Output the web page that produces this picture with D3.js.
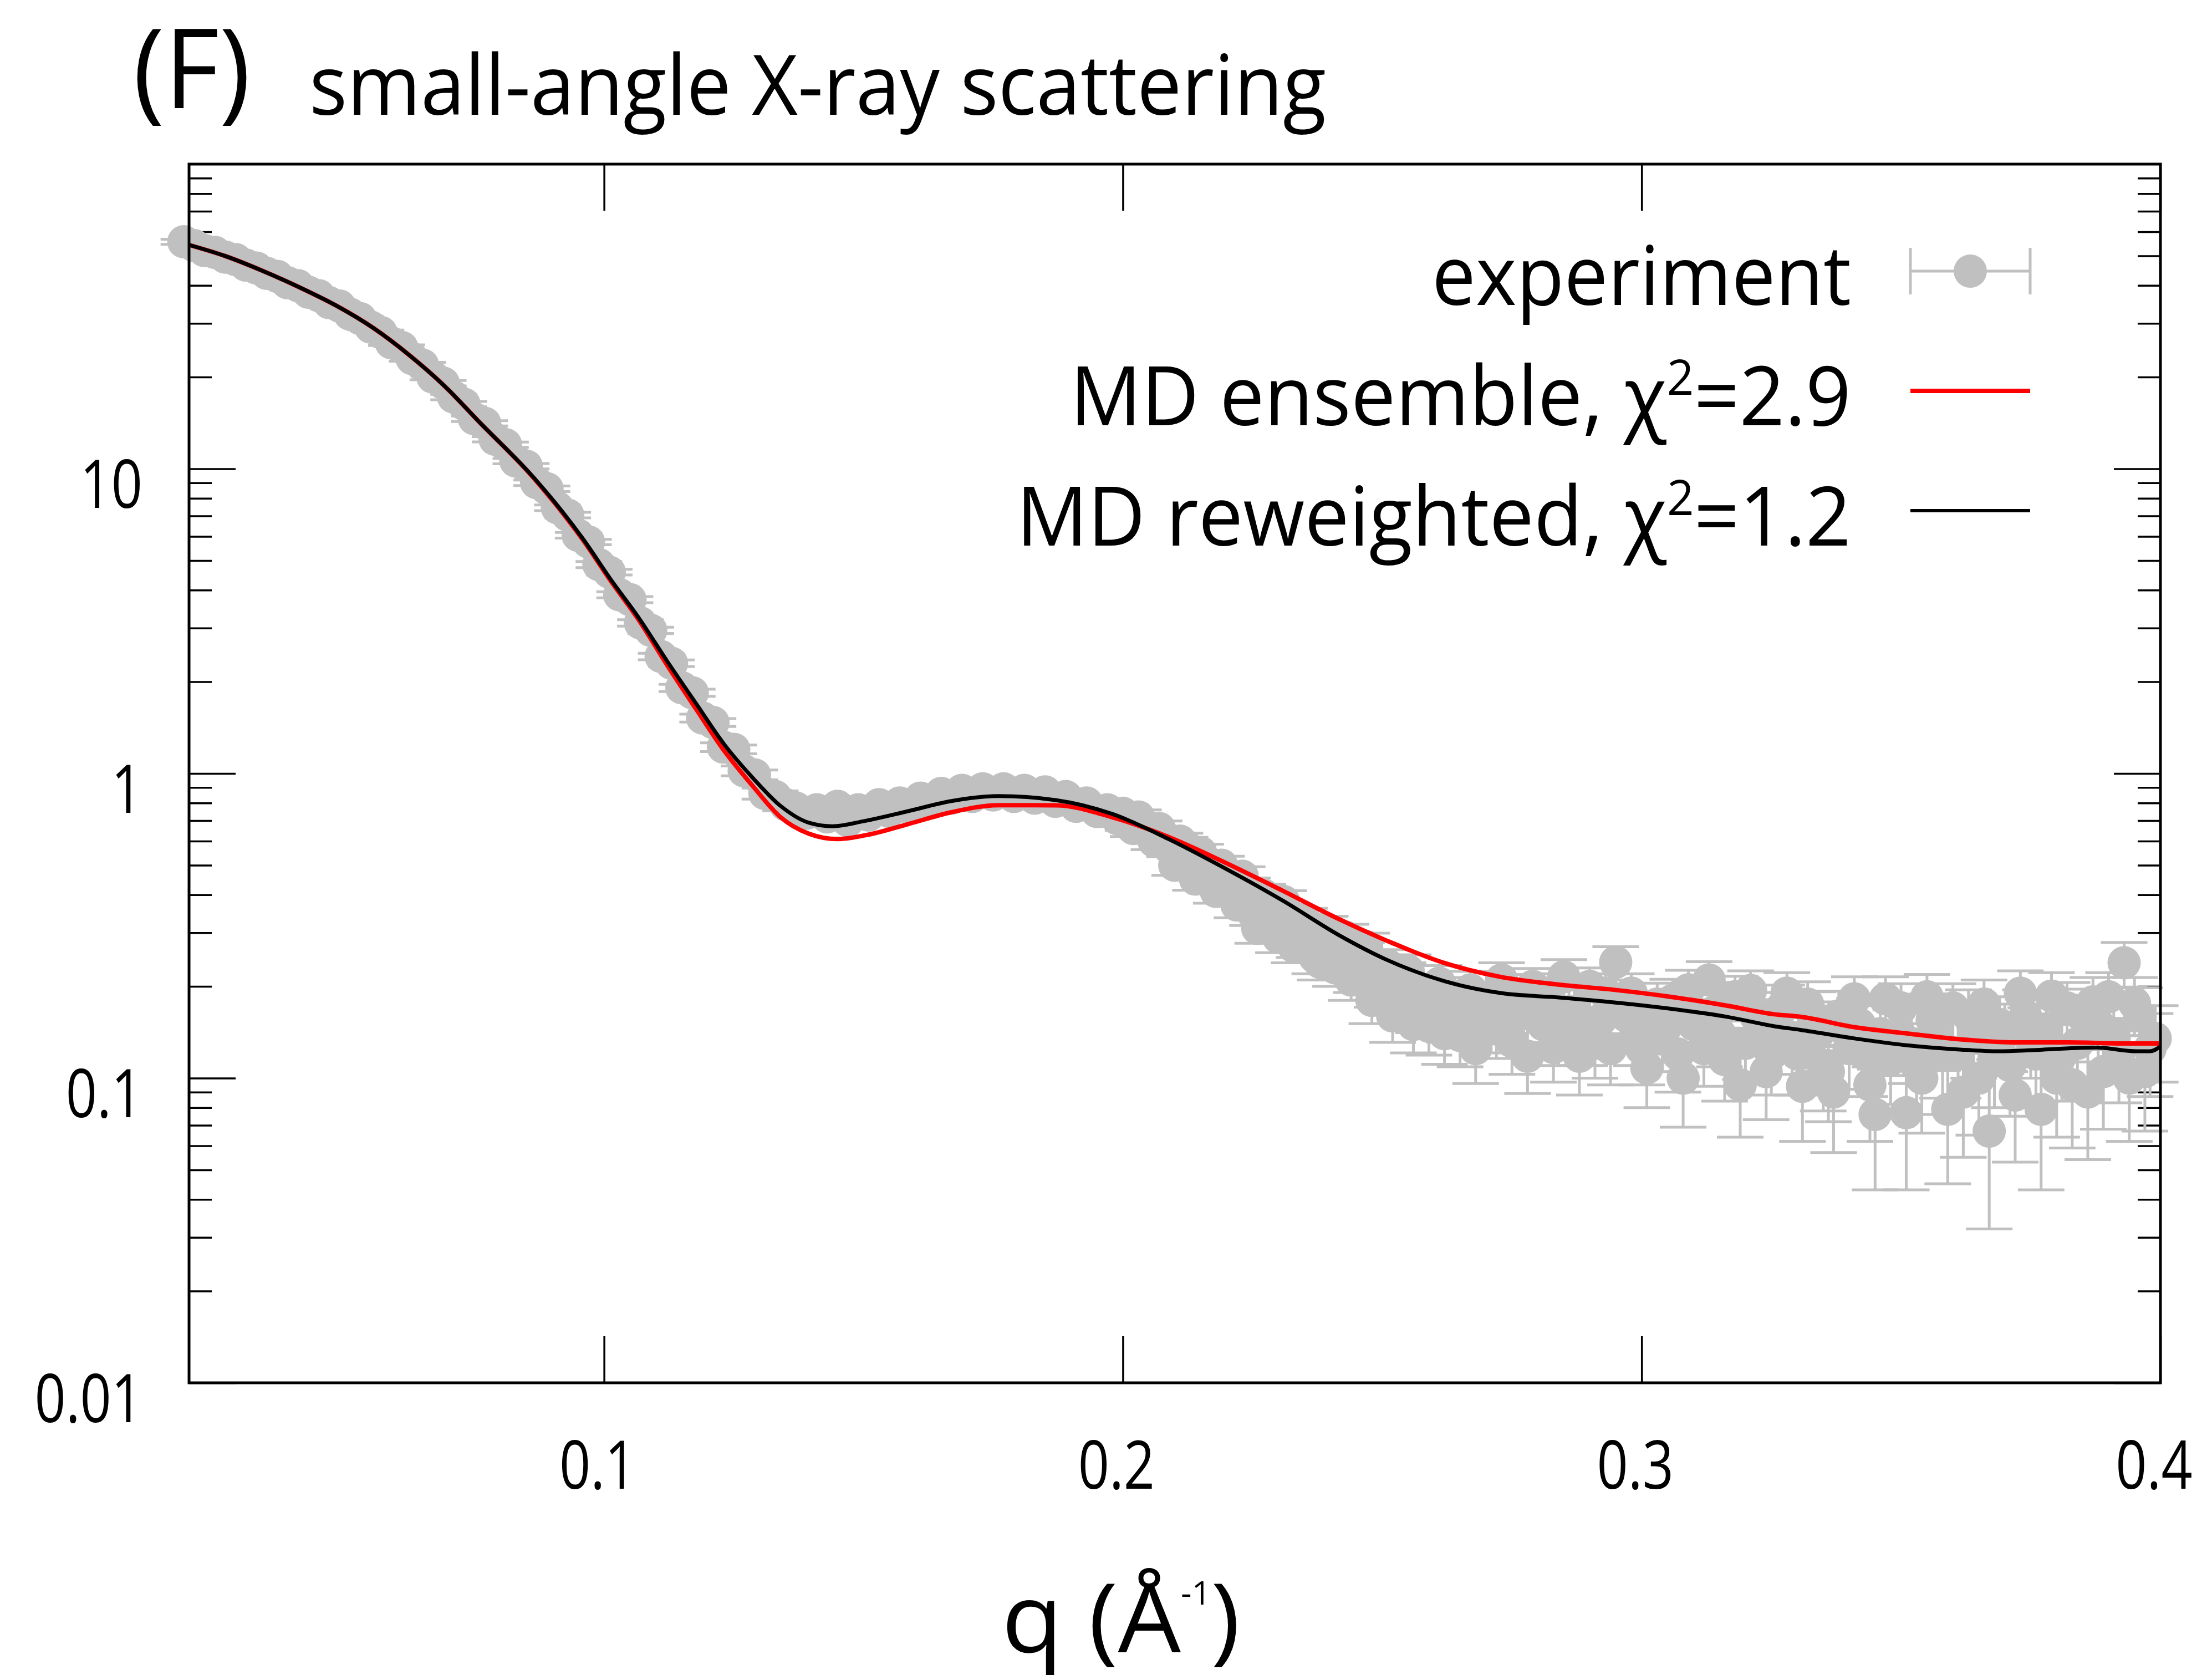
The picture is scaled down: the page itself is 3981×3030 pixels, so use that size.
<!DOCTYPE html>
<html>
<head>
<meta charset="utf-8">
<script src="https://cdn.jsdelivr.net/npm/d3@7"></script>
<style>
  body { margin: 0; background: #fff; }
  text { font-family: "Open Sans", sans-serif; fill: #000; }
</style>
</head>
<body>
<div id="chart"></div>
<script>
// SAXS profile: q in 1/A, intensity in arbitrary units

// experiment points (q, I, error)
var expQ = [
  0.019, 0.021, 0.023, 0.025, 0.027, 0.029, 0.031, 0.033, 0.035, 0.037,
  0.039, 0.041, 0.043, 0.045, 0.047, 0.049, 0.051, 0.053, 0.055, 0.057,
  0.059, 0.061, 0.063, 0.065, 0.067, 0.069, 0.071, 0.073, 0.075, 0.077,
  0.079, 0.081, 0.083, 0.085, 0.087, 0.089, 0.091, 0.093, 0.095, 0.097,
  0.099, 0.101, 0.103, 0.105, 0.107, 0.109, 0.111, 0.113, 0.115, 0.117,
  0.119, 0.121, 0.123, 0.125, 0.127, 0.129, 0.131, 0.133, 0.135, 0.137,
  0.139, 0.141, 0.143, 0.145, 0.147, 0.149, 0.151, 0.153, 0.155, 0.157,
  0.159, 0.161, 0.163, 0.165, 0.167, 0.169, 0.171, 0.173, 0.175, 0.177,
  0.179, 0.181, 0.183, 0.185, 0.187, 0.189, 0.191, 0.193, 0.195, 0.197,
  0.199, 0.201, 0.203, 0.205, 0.207, 0.209, 0.211, 0.213, 0.215, 0.217,
  0.219, 0.221, 0.223, 0.225, 0.227, 0.229, 0.231, 0.233, 0.235, 0.237,
  0.239, 0.241, 0.243, 0.245, 0.247, 0.249, 0.251, 0.253, 0.255, 0.257,
  0.259, 0.261, 0.263, 0.265, 0.267, 0.269, 0.271, 0.273, 0.275, 0.277,
  0.279, 0.281, 0.283, 0.285, 0.287, 0.289, 0.291, 0.293, 0.295, 0.297,
  0.299, 0.301, 0.303, 0.305, 0.307, 0.309, 0.311, 0.313, 0.315, 0.317,
  0.319, 0.321, 0.323, 0.325, 0.327, 0.329, 0.331, 0.333, 0.335, 0.337,
  0.339, 0.341, 0.343, 0.345, 0.347, 0.349, 0.351, 0.353, 0.355, 0.357,
  0.359, 0.361, 0.363, 0.365, 0.367, 0.369, 0.371, 0.373, 0.375, 0.377,
  0.379, 0.381, 0.383, 0.385, 0.387, 0.389, 0.391, 0.393, 0.395, 0.397,
  0.399,
  // denser sampling of the noisy high-q part
  0.200, 0.202, 0.204, 0.206, 0.208, 0.210, 0.212, 0.214, 0.216, 0.218,
  0.220, 0.222, 0.224, 0.226, 0.228, 0.230, 0.232, 0.234, 0.236, 0.238,
  0.240, 0.242, 0.244, 0.246, 0.248, 0.250, 0.252, 0.254, 0.256, 0.258,
  0.260, 0.262, 0.264, 0.266, 0.268, 0.270, 0.272, 0.274, 0.276, 0.278,
  0.280, 0.282, 0.284, 0.286, 0.288, 0.290, 0.292, 0.294, 0.296, 0.298,
  0.300, 0.302, 0.304, 0.306, 0.308, 0.310, 0.312, 0.314, 0.316, 0.318,
  0.320, 0.322, 0.324, 0.326, 0.328, 0.330, 0.332, 0.334, 0.336, 0.338,
  0.340, 0.342, 0.344, 0.346, 0.348, 0.350, 0.352, 0.354, 0.356, 0.358,
  0.360, 0.362, 0.364, 0.366, 0.368, 0.370, 0.372, 0.374, 0.376, 0.378,
  0.380, 0.382, 0.384, 0.386, 0.388, 0.390, 0.392, 0.394, 0.396, 0.398
];
var expI = [
  55.6, 54.0, 52.0, 51.3, 49.5, 48.6, 46.6, 45.6, 43.8, 42.8,
  40.8, 39.9, 38.0, 37.0, 35.1, 34.2, 32.2, 31.1, 29.2, 28.0,
  25.9, 25.0, 23.0, 21.9, 20.0, 19.1, 17.2, 16.3, 14.6, 14.1,
  12.5, 12.0, 10.6, 10.2, 9.0, 8.6, 7.45, 7.05, 6.05, 5.75,
  4.85, 4.58, 3.86, 3.72, 3.12, 2.95, 2.42, 2.30, 1.91, 1.84,
  1.52, 1.47, 1.22, 1.20, 1.02, 0.99, 0.86, 0.84, 0.79, 0.77,
  0.74, 0.76, 0.72, 0.78, 0.70, 0.76, 0.73, 0.79, 0.75, 0.80,
  0.77, 0.83, 0.80, 0.86, 0.83, 0.88, 0.84, 0.89, 0.85, 0.89,
  0.84, 0.88, 0.83, 0.87, 0.81, 0.84, 0.78, 0.80, 0.75, 0.76,
  0.71, 0.69, 0.72, 0.64, 0.66, 0.57, 0.60, 0.52, 0.55, 0.44,
  0.50, 0.42, 0.46, 0.35, 0.40, 0.33, 0.38, 0.27, 0.33, 0.25,
  0.31, 0.23, 0.29, 0.22, 0.27, 0.20, 0.235, 0.190, 0.225, 0.170,
  0.148, 0.205, 0.160, 0.138, 0.195, 0.175, 0.150, 0.210, 0.132, 0.180,
  0.200, 0.150, 0.126, 0.215, 0.165, 0.140, 0.130, 0.190, 0.240, 0.160,
  0.140, 0.108, 0.175, 0.150, 0.120, 0.195, 0.160, 0.210, 0.140, 0.175,
  0.095, 0.194, 0.150, 0.120, 0.170, 0.135, 0.094, 0.160, 0.110, 0.090,
  0.145, 0.182, 0.120, 0.076, 0.182, 0.135, 0.077, 0.110, 0.185, 0.140,
  0.079, 0.120, 0.160, 0.100, 0.067, 0.150, 0.110, 0.190, 0.135, 0.079,
  0.186, 0.120, 0.095, 0.160, 0.178, 0.105, 0.140, 0.239, 0.176, 0.105,
  0.135,
  0.74, 0.66, 0.68, 0.60, 0.62, 0.50, 0.58, 0.45, 0.49, 0.41,
  0.46, 0.37, 0.42, 0.31, 0.36, 0.29, 0.34, 0.28, 0.30, 0.24,
  0.27, 0.25, 0.21, 0.25, 0.18, 0.22, 0.16, 0.21, 0.15, 0.19,
  0.17, 0.14, 0.185, 0.155, 0.125, 0.17, 0.145, 0.19, 0.16, 0.118,
  0.175, 0.19, 0.14, 0.165, 0.118, 0.20, 0.155, 0.125, 0.17, 0.19,
  0.125, 0.16, 0.135, 0.18, 0.10, 0.15, 0.125, 0.165, 0.115, 0.185,
  0.13, 0.16, 0.105, 0.145, 0.19, 0.12, 0.175, 0.14, 0.105, 0.16,
  0.125, 0.15, 0.095, 0.14, 0.115, 0.17, 0.13, 0.10, 0.155, 0.12,
  0.17, 0.09, 0.135, 0.175, 0.115, 0.14, 0.088, 0.16, 0.12, 0.145,
  0.10, 0.17, 0.13, 0.09, 0.15, 0.185, 0.12, 0.10, 0.16, 0.125
];
var expErr = [
  1.1, 1.1, 1.0, 1.0, 1.0, 0.95, 0.9, 0.9, 0.85, 0.85,
  0.8, 0.8, 0.75, 0.75, 0.7, 0.7, 0.65, 0.6, 0.6, 0.55,
  0.5, 0.5, 0.45, 0.45, 0.4, 0.4, 0.35, 0.33, 0.3, 0.28,
  0.25, 0.24, 0.22, 0.21, 0.19, 0.18, 0.16, 0.15, 0.13, 0.12,
  0.11, 0.1, 0.09, 0.085, 0.075, 0.07, 0.06, 0.058, 0.052, 0.05,
  0.045, 0.044, 0.04, 0.04, 0.038, 0.037, 0.036, 0.036, 0.036, 0.036,
  0.036, 0.036, 0.036, 0.037, 0.037, 0.037, 0.038, 0.038, 0.038, 0.039,
  0.039, 0.04, 0.04, 0.04, 0.041, 0.041, 0.041, 0.042, 0.042, 0.042,
  0.042, 0.042, 0.042, 0.042, 0.042, 0.041, 0.041, 0.041, 0.04, 0.04,
  0.04, 0.039, 0.039, 0.038, 0.038, 0.037, 0.037, 0.036, 0.036, 0.035,
  0.035, 0.034, 0.034, 0.033, 0.033, 0.032, 0.032, 0.031, 0.031, 0.030,
  0.030, 0.030, 0.030, 0.029, 0.029, 0.029, 0.029, 0.029, 0.029, 0.029,
  0.029, 0.029, 0.029, 0.029, 0.029, 0.029, 0.029, 0.029, 0.029, 0.029,
  0.029, 0.029, 0.029, 0.030, 0.030, 0.030, 0.030, 0.030, 0.030, 0.030,
  0.030, 0.028, 0.030, 0.030, 0.030, 0.031, 0.031, 0.031, 0.031, 0.031,
  0.031, 0.031, 0.031, 0.032, 0.032, 0.032, 0.032, 0.032, 0.032, 0.033,
  0.033, 0.033, 0.033, 0.033, 0.033, 0.033, 0.034, 0.034, 0.034, 0.034,
  0.034, 0.034, 0.035, 0.035, 0.035, 0.035, 0.035, 0.035, 0.035, 0.036,
  0.036, 0.036, 0.036, 0.036, 0.036, 0.037, 0.037, 0.040, 0.038, 0.038,
  0.038,
  0.040, 0.039, 0.039, 0.038, 0.038, 0.037, 0.037, 0.036, 0.036, 0.035,
  0.035, 0.034, 0.034, 0.033, 0.033, 0.032, 0.032, 0.031, 0.031, 0.030,
  0.030, 0.030, 0.030, 0.029, 0.029, 0.029, 0.029, 0.029, 0.029, 0.029,
  0.029, 0.029, 0.029, 0.029, 0.029, 0.029, 0.029, 0.029, 0.029, 0.029,
  0.029, 0.030, 0.030, 0.030, 0.030, 0.030, 0.030, 0.030, 0.030, 0.030,
  0.030, 0.030, 0.030, 0.031, 0.031, 0.031, 0.031, 0.031, 0.031, 0.031,
  0.031, 0.031, 0.032, 0.032, 0.032, 0.032, 0.032, 0.032, 0.033, 0.033,
  0.033, 0.033, 0.033, 0.033, 0.033, 0.034, 0.034, 0.034, 0.034, 0.034,
  0.034, 0.035, 0.035, 0.035, 0.035, 0.035, 0.035, 0.035, 0.036, 0.036,
  0.036, 0.036, 0.036, 0.036, 0.037, 0.037, 0.037, 0.038, 0.038, 0.038
];

// MD ensemble (red)
var ensQ = [0.020, 0.027, 0.0341, 0.0413, 0.0484, 0.0555, 0.0626, 0.0698, 0.0755, 0.0865,
  0.0904, 0.0959, 0.1013, 0.1068, 0.1122, 0.1177, 0.1231, 0.1286, 0.134, 0.1395,
  0.145, 0.1504, 0.1586, 0.1668, 0.1762, 0.1871, 0.198, 0.2089, 0.2198, 0.2307,
  0.2416, 0.251, 0.2619, 0.2728, 0.2837, 0.2946, 0.3055, 0.3164, 0.3256, 0.3306,
  0.341, 0.3514, 0.3617, 0.372, 0.3824, 0.3927, 0.400];
var ensI = [54.3, 49.9, 44.7, 39.4, 34.3, 29.0, 23.5, 18.3, 14.5, 9.30,
  7.75, 5.85, 4.28, 3.17, 2.26, 1.63, 1.19, 0.912, 0.719, 0.634,
  0.609, 0.627, 0.682, 0.745, 0.787, 0.786, 0.718, 0.618, 0.509, 0.413,
  0.333, 0.282, 0.239, 0.215, 0.203, 0.195, 0.185, 0.173, 0.162, 0.159,
  0.147, 0.140, 0.134, 0.131, 0.131, 0.130, 0.130];

// MD reweighted (black)
var rewQ = [0.020, 0.027, 0.0341, 0.0413, 0.0484, 0.0555, 0.0626, 0.0698, 0.0755, 0.0865,
  0.0904, 0.0959, 0.1013, 0.1068, 0.1122, 0.1177, 0.1231, 0.1286, 0.134, 0.1395,
  0.144, 0.150, 0.1586, 0.1668, 0.176, 0.187, 0.198, 0.209, 0.220, 0.231,
  0.2416, 0.251, 0.262, 0.273, 0.284, 0.295, 0.3055, 0.3164, 0.3256, 0.3306,
  0.341, 0.3514, 0.3617, 0.3694, 0.3772, 0.3876, 0.3954, 0.398, 0.400];
var rewI = [54.3, 49.9, 44.7, 39.4, 34.3, 29.0, 23.5, 18.3, 14.5, 9.33,
  7.80, 5.90, 4.33, 3.22, 2.33, 1.70, 1.25, 0.97, 0.783, 0.689,
  0.671, 0.697, 0.752, 0.811, 0.843, 0.818, 0.736, 0.607, 0.485, 0.381,
  0.295, 0.244, 0.208, 0.190, 0.184, 0.177, 0.169, 0.159, 0.148, 0.144,
  0.135, 0.128, 0.124, 0.1225, 0.124, 0.126, 0.1225, 0.1225, 0.127];

var xTicks = [0.1, 0.2, 0.3, 0.4];
var yTicks = [0.01, 0.1, 1, 10];
var legendLabels = ['experiment', 'MD ensemble, ', 'MD reweighted, '];
var chiValues = ['2.9', '1.2'];

var W = 3981, H = 3030;
var margin = {top: 296, right: 84, bottom: 536, left: 341};
var width = W - margin.left - margin.right;
var height = H - margin.top - margin.bottom;

var grey = '#c0c0c0';

var svg = d3.select('#chart').append('svg')
    .attr('width', W)
    .attr('height', H)
    .style('display', 'block')
    .style('background', '#fff');

var g = svg.append('g')
    .attr('transform', 'translate(' + margin.left + ',' + margin.top + ')');

var x = d3.scaleLinear().domain([0.02, 0.4]).range([0, width]);
var y = d3.scaleLog().domain([0.01, 100]).range([height, 0]);

// axes
var minorY = y.ticks().filter(d => Math.abs(Math.log10(d) - Math.round(Math.log10(d))) > 1e-6);
var tickSx = 0.82;

function squeezeTicks(sel, dxPx, dyPx) {
  sel.selectAll('.tick text').each(function() {
    var t = d3.select(this);
    var tx = +t.attr('x') || 0, ty = +t.attr('y') || 0;
    t.attr('x', null).attr('y', null).attr('dy', null)
      .attr('transform', 'translate(' + (tx + dxPx) + ',' + (ty + dyPx) + ') scale(' + tickSx + ',1)');
  });
}

var gLeft = g.append('g')
    .call(d3.axisLeft(y).tickValues(yTicks).tickFormat(d3.format('~g')).tickSize(-84).tickSizeOuter(0).tickPadding(84));
gLeft.selectAll('text').attr('font-size', 120).attr('font-family', '"Open Sans", sans-serif');
squeezeTicks(gLeft, 0, 70);
g.append('g')
    .call(d3.axisLeft(y).tickValues(minorY).tickFormat('').tickSize(-41).tickSizeOuter(0));
g.append('g')
    .attr('transform', 'translate(' + width + ',0)')
    .call(d3.axisRight(y).tickValues(yTicks).tickFormat('').tickSize(-84).tickSizeOuter(0));
g.append('g')
    .attr('transform', 'translate(' + width + ',0)')
    .call(d3.axisRight(y).tickValues(minorY).tickFormat('').tickSize(-41).tickSizeOuter(0));

var gBottom = g.append('g')
    .attr('transform', 'translate(0,' + height + ')')
    .call(d3.axisBottom(x).tickValues(xTicks).tickFormat(d3.format('.1f')).tickSize(-84).tickSizeOuter(0).tickPadding(0));
gBottom.selectAll('text').attr('font-size', 120).attr('font-family', '"Open Sans", sans-serif');
squeezeTicks(gBottom, -12, 191);
g.append('g')
    .call(d3.axisTop(x).tickValues(xTicks).tickFormat('').tickSize(-84).tickSizeOuter(0));

g.selectAll('.domain').remove();
g.selectAll('.tick line').attr('stroke', '#000').attr('stroke-width', 3.5);

// experiment: error bars and points
var expData = expQ.map((q, i) => ({q: q, v: expI[i], e: expErr[i]}));
var gExp = g.append('g').attr('class', 'experiment');
var capW = 42;

gExp.selectAll('.bar')
    .data(expData)
  .enter().append('path')
    .attr('class', 'bar')
    .attr('fill', 'none')
    .attr('stroke', grey)
    .attr('stroke-width', 5)
    .attr('d', d => {
      var cx = x(d.q);
      var y1 = y(d.v + d.e), y2 = y(Math.max(d.v - d.e, 1e-4));
      return 'M' + cx + ',' + y1 + 'V' + y2 +
        'M' + (cx - capW) + ',' + y1 + 'H' + (cx + capW) +
        'M' + (cx - capW) + ',' + y2 + 'H' + (cx + capW);
    });

gExp.selectAll('circle')
    .data(expData)
  .enter().append('circle')
    .attr('cx', d => x(d.q))
    .attr('cy', d => y(d.v))
    .attr('r', 30)
    .attr('fill', grey);

// model curves
var line = d3.line()
    .x(d => x(d[0]))
    .y(d => y(d[1]))
    .curve(d3.curveMonotoneX);

g.append('path')
    .datum(ensQ.map((q, i) => [q, ensI[i]]))
    .attr('fill', 'none')
    .attr('stroke', '#ff0000')
    .attr('stroke-width', 8)
    .attr('d', line);

g.append('path')
    .datum(rewQ.map((q, i) => [q, rewI[i]]))
    .attr('fill', 'none')
    .attr('stroke', '#000')
    .attr('stroke-width', 7)
    .attr('d', line);

// frame
g.append('rect')
    .attr('width', width)
    .attr('height', height)
    .attr('fill', 'none')
    .attr('stroke', '#000')
    .attr('stroke-width', 5);

// text helper: squeeze horizontally to the width taken in the figure
function addLabel(parent, px, py, anchor, size, build, target) {
  var grp = parent.append('g');
  var t = grp.append('text')
      .attr('text-anchor', anchor)
      .attr('font-size', size);
  build(t);
  var sx = target ? target / t.node().getComputedTextLength() : tickSx;
  grp.attr('transform', 'translate(' + px + ',' + py + ') scale(' + sx + ',1)');
  return grp;
}

// title
addLabel(svg, 240, 195, 'start', 200, t => t.text('(F)'), 212);
addLabel(svg, 558, 207, 'start', 150, t => t.text('small-angle X-ray scattering'), 1834);

// x axis title
addLabel(svg, 1807, 2980, 'start', 172, t => {
  t.append('tspan').text('q (Å');
  t.append('tspan').attr('font-size', 58).attr('dy', -86).text('-1');
  t.append('tspan').attr('dy', 86).text(')');
}, 430);

// legend
var legX0 = 3446, legX1 = 3662, legTextX = 3339;
var legBase = [550, 767, 984];
var legWidths = [756, 1409, 1506];

addLabel(svg, legTextX, legBase[0], 'end', 148, t => t.text(legendLabels[0]), legWidths[0]);
[1, 2].forEach(k => {
  addLabel(svg, legTextX, legBase[k], 'end', 148, t => {
    t.append('tspan').text(legendLabels[k]);
    t.append('tspan').text('χ');
    t.append('tspan').attr('font-size', 88).attr('dy', -55).text('2');
    t.append('tspan').attr('dy', 55).text('=' + chiValues[k - 1]);
  }, legWidths[k]);
});

var ly0 = legBase[0] - 61;
svg.append('path')
    .attr('fill', 'none')
    .attr('stroke', grey)
    .attr('stroke-width', 5)
    .attr('d', 'M' + legX0 + ',' + ly0 + 'H' + legX1 +
      'M' + legX0 + ',' + (ly0 - 42) + 'V' + (ly0 + 42) +
      'M' + legX1 + ',' + (ly0 - 42) + 'V' + (ly0 + 42));
svg.append('circle')
    .attr('cx', (legX0 + legX1) / 2)
    .attr('cy', ly0)
    .attr('r', 30)
    .attr('fill', grey);

svg.append('line')
    .attr('x1', legX0).attr('x2', legX1)
    .attr('y1', legBase[1] - 62).attr('y2', legBase[1] - 62)
    .attr('stroke', '#ff0000').attr('stroke-width', 8);
svg.append('line')
    .attr('x1', legX0).attr('x2', legX1)
    .attr('y1', legBase[2] - 63).attr('y2', legBase[2] - 63)
    .attr('stroke', '#000').attr('stroke-width', 6);
</script>
</body>
</html>
